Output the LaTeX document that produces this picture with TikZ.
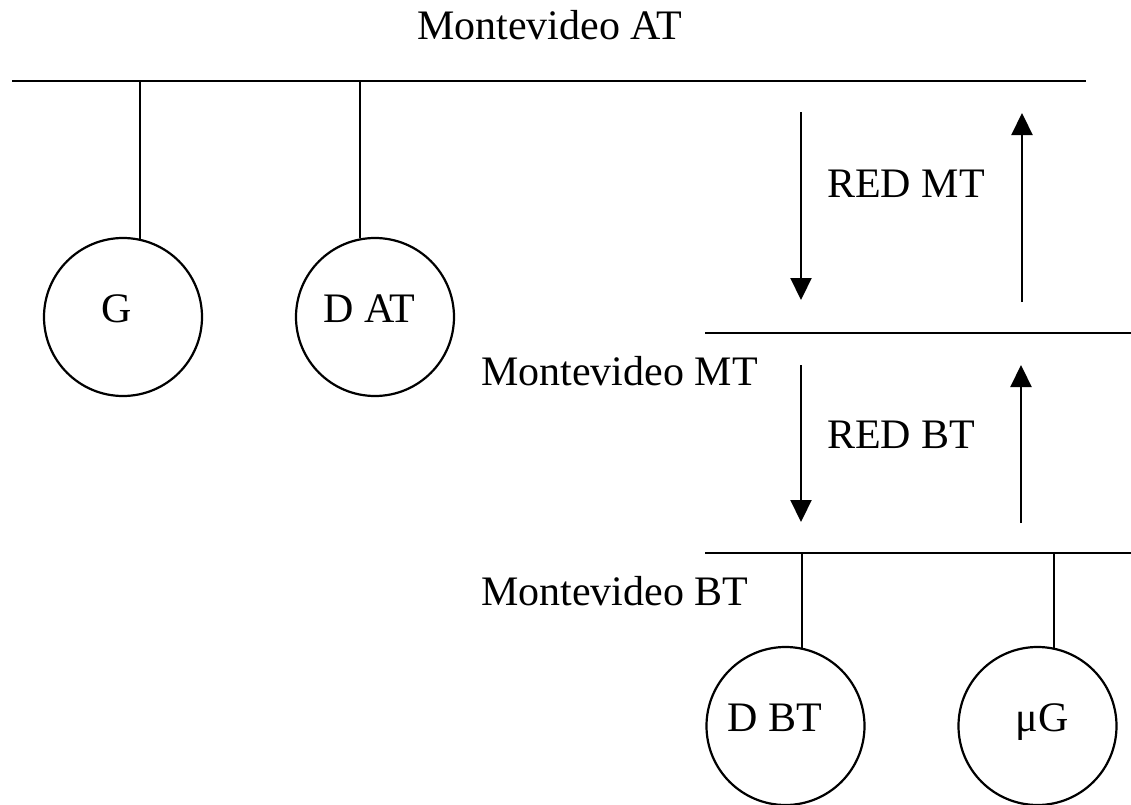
\documentclass[tikz,border=0pt]{standalone}
\usepackage{fontspec}
\setmainfont{Liberation Serif}
\usetikzlibrary{arrows.meta}
\tikzset{
  lbl/.style={inner sep=0pt, font=\fontsize{42bp}{50bp}\selectfont},
  bus/.style={line width=2.6bp},
  stem/.style={line width=2.2bp},
  flow/.style={line width=2.2bp, -{Triangle[length=22bp,width=21bp]}},
  load/.style={draw, circle, line width=2.2bp, minimum size=158bp, inner sep=0pt,
    font=\fontsize{42bp}{50bp}\selectfont, text height=28bp, text depth=18bp}
}
\begin{document}
\begin{tikzpicture}[x=1bp,y=-1bp]
\useasboundingbox (0,0) rectangle (1131,805);
% buses
\coordinate (atL) at (12,81);   \coordinate (atR) at (1086,81);
\coordinate (mtL) at (705,333); \coordinate (mtR) at (1131,333);
\coordinate (btL) at (705,553); \coordinate (btR) at (1131,553);
\draw[bus] (atL) -- (atR);
\draw[bus] (mtL) -- (mtR);
\draw[bus] (btL) -- (btR);
% bus labels
\node[lbl, anchor=base west] (lAT) at (417,40) {Montevideo AT};
\node[lbl, anchor=base west] (lMT) at (481,385) {Montevideo MT};
\node[lbl, anchor=base west] (lBT) at (481,605) {Montevideo BT};
\node[lbl, anchor=base west] (rMT) at (827,197) {RED MT};
\node[lbl, anchor=base west] (rBT) at (827,448) {RED BT};
% circles
\node[load] (G)   at (123,317) {\hspace*{-12bp}G};
\node[load] (DAT) at (375,317) {\hspace*{-11bp}D AT};
\node[load] (DBT) at (785.5,726) {\hspace*{-21bp}D BT};
\node[load] (uG)  at (1037.5,726) {\hspace*{9bp}μG};
% stems
\draw[stem] (G.78.3) -- (G.78.3 |- atL);
\draw[stem] (DAT.101) -- (DAT.101 |- atL);
\draw[stem] (DBT.78.7) -- (DBT.78.7 |- btL);
\draw[stem] (uG.78.7) -- (uG.78.7 |- btL);
% power flow arrows
\coordinate (m1a) at (801,112);  \coordinate (m1b) at (801,300);
\coordinate (m2a) at (1022,302); \coordinate (m2b) at (1022,113);
\coordinate (b1a) at (801,365);  \coordinate (b1b) at (801,522);
\coordinate (b2a) at (1021,523); \coordinate (b2b) at (1021,365);
\draw[flow] (m1a) -- (m1b);
\draw[flow] (m2a) -- (m2b);
\draw[flow] (b1a) -- (b1b);
\draw[flow] (b2a) -- (b2b);
\end{tikzpicture}
\end{document}
